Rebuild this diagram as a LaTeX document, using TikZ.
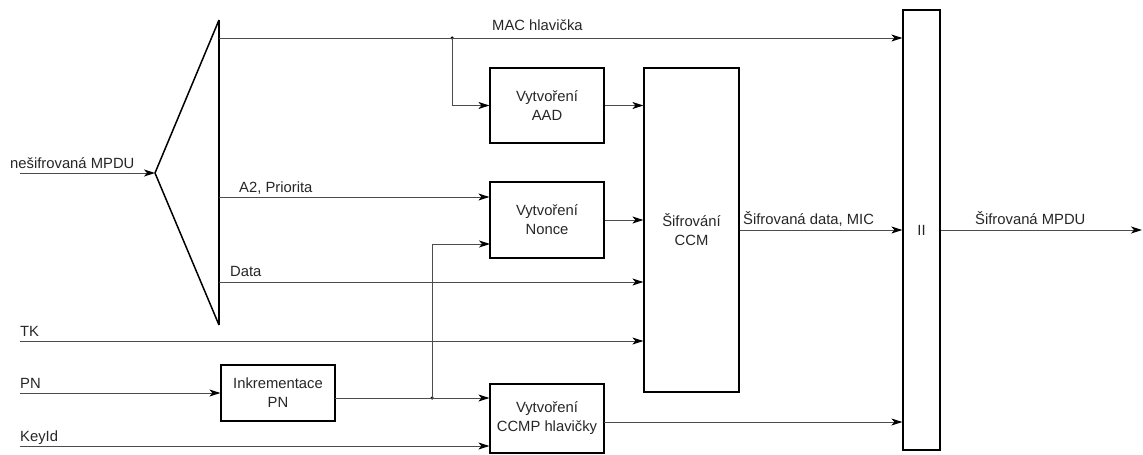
\documentclass[tikz,border=0pt]{standalone}
\usepackage{fontspec}
\setmainfont{Liberation Sans}
\usetikzlibrary{arrows.meta,calc}
\begin{document}
\begin{tikzpicture}[x=1pt,y=-1pt,
  every node/.style={font=\fontsize{14.8}{19}\selectfont, text=black!85},
  blk/.style={draw=black, line width=1.2pt, align=center, inner sep=0pt},
  conn/.style={draw=black!70, line width=1pt, -{Stealth[length=11pt,width=7pt,inset=3pt,black]}},
  line/.style={draw=black!70, line width=1pt},
  lbl/.style={anchor=base west, inner sep=0pt},
  dot/.style={circle, fill=black, inner sep=0pt, minimum size=3.5pt}
]
\useasboundingbox (0,0) rectangle (1143,455);
% demultiplexer
\coordinate (dtop) at (219,20);
\coordinate (dbot) at (219,325);
\coordinate (dapex) at (155,173);
\draw[line width=1.5pt, line join=miter] (dtop) -- (dapex) -- (dbot);
\draw[line width=1.8pt] (dtop) -- (dbot);
% blocks
\node[blk, minimum width=114pt, minimum height=75pt] (aad) at (547,105.5) {Vytvoření\\AAD};
\node[blk, minimum width=114pt, minimum height=76pt] (nonce) at (547,220) {Vytvoření\\Nonce};
\node[blk, minimum width=95pt, minimum height=324pt] (ccm) at (691.5,230) {Šifrování\\CCM};
\node[blk, minimum width=114pt, minimum height=56pt] (inkr) at (278,393) {Inkrementace\\PN};
\node[blk, minimum width=114pt, minimum height=69pt] (ccmp) at (547,418.5) {Vytvoření\\CCMP hlavičky};
\node[blk, minimum width=37pt, minimum height=440pt] (cat) at (921.5,230) {II};
% coordinates
\coordinate (inL) at (20,173);
\coordinate (macS) at (219,38);
\coordinate (a2S) at (219,197);
\coordinate (dataS) at (219,282);
\coordinate (tkS) at (20,341);
\coordinate (pnS) at (20,393);
\coordinate (keyS) at (20,446);
\coordinate (inkrO) at (335,398);
\coordinate (ccmpO) at (604,422);
\coordinate (nonceI) at (490,244);
\coordinate (outE) at (1142,230);
\node[dot] (j1) at (452,38) {};
\node[dot] (j2) at (432,398) {};
% connectors
\draw[conn] (inL) -- (dapex);
\draw[conn] (macS) -- (macS -| cat.west);
\draw[conn] (j1.center) |- (aad.west);
\draw[conn] (aad.east) -- (aad.east -| ccm.west);
\draw[conn] (a2S) -- (a2S -| nonce.west);
\draw[conn] (nonce.east) -- (nonce.east -| ccm.west);
\draw[conn] (dataS) -- (dataS -| ccm.west);
\draw[conn] (tkS) -- (tkS -| ccm.west);
\draw[conn] (pnS) -- (pnS -| inkr.west);
\draw[line] (inkrO) -- (j2.center);
\draw[conn] (j2.center) -- (j2.center -| ccmp.west);
\draw[conn] (j2.center) |- (nonceI);
\draw[conn] (keyS) -- (keyS -| ccmp.west);
\draw[conn] (ccmpO) -- (ccmpO -| cat.west);
\draw[conn] (ccm.east) -- (ccm.east -| cat.west);
\draw[conn] (cat.east) -- (outE);
% labels
\node[lbl] (lmac) at (492,30.5) {MAC hlavička};
\node[lbl] (lin) at (10,168) {nešifrovaná MPDU};
\node[lbl] (la2) at (239,192.5) {A2, Priorita};
\node[lbl] (ldata) at (230,276.5) {Data};
\node[lbl] (ltk) at (20,336) {TK};
\node[lbl] (lpn) at (20,388) {PN};
\node[lbl] (lkey) at (20,441) {KeyId};
\node[lbl] (lenc) at (743,224) {Šifrovaná data, MIC};
\node[lbl] (lout) at (975,224) {Šifrovaná MPDU};
\end{tikzpicture}
\end{document}
